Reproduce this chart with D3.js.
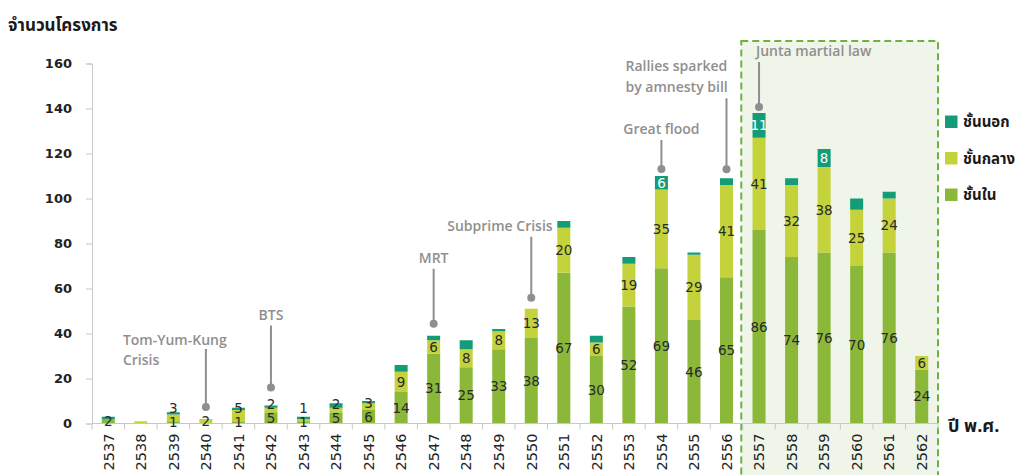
<!DOCTYPE html>
<html>
<head>
<meta charset="utf-8">
<script src="https://cdn.jsdelivr.net/npm/d3@7"></script>
<style>
  html, body { margin: 0; padding: 0; background: #ffffff; }
  svg { display: block; }
  .thai { font-family: "Noto Sans Thai", "Loma", "Garuda", "Tlwg Typo", "DejaVu Sans", sans-serif; }
  .num { font-family: "DejaVu Sans", "Noto Sans", sans-serif; }
  .note { font-family: "Open Sans", "Noto Sans", sans-serif; font-weight: 600; }
</style>
</head>
<body>
<svg id="chart" width="1017" height="475"></svg>
<script>
// Thai Buddhist-era years
const years = ["2537","2538","2539","2540","2541","2542","2543","2544","2545","2546","2547","2548","2549",
               "2550","2551","2552","2553","2554","2555","2556","2557","2558","2559","2560","2561","2562"];

// Number of projects per zone
const innerZone  = [2, 0, 1, 0, 1, 5, 1, 5, 6, 14, 31, 25, 33, 38, 67, 30, 52, 69, 46, 65, 86, 74, 76, 70, 76, 24];
const middleZone = [0, 1, 3, 2, 5, 2, 1, 2, 3,  9,  6,  8,  8, 13, 20,  6, 19, 35, 29, 41, 41, 32, 38, 25, 24,  6];
const outerZone  = [1, 0, 1, 0, 1, 1, 1, 2, 1,  3,  2,  4,  1,  0,  3,  3,  3,  6,  1,  3, 11,  3,  8,  5,  3,  0];

const seriesKeys   = ["inner", "middle", "outer"];
const seriesNames  = ["ชั้นใน", "ชั้นกลาง", "ชั้นนอก"];
const yTicks = [0, 20, 40, 60, 80, 100, 120, 140, 160];

// Event notes
const noteYears = ["2540", "2542", "2547", "2550", "2554", "2556", "2557"];
const noteTexts = [["Tom-Yum-Kung", "Crisis"], ["BTS"], ["MRT"], ["Subprime Crisis"], ["Great flood"],
                   ["Rallies sparked", "by amnesty bill"], ["Junta martial law"]];
const highlightFrom = "2557";

const xTitle = "ปี พ.ศ.";
const yTitle = "จำนวนโครงการ";

// ---- layout ----
const colors = { inner: "#8cb83a", middle: "#c4d33c", outer: "#149c79" };
const noteLayout = {
  "2540": { gap: 12, len: 58, dx: -83, anchor: "start" },
  "2542": { gap: 18, len: 62, dx: 0,   anchor: "middle" },
  "2547": { gap: 12, len: 55, dx: 0,   anchor: "middle" },
  "2550": { gap: 11, len: 61, dx: -84, anchor: "start" },
  "2554": { gap: 7,  len: 29, dx: 0,   anchor: "middle" },
  "2556": { gap: 9,  len: 71, dx: -101, anchor: "start" },
  "2557": { gap: 6,  len: 45, dx: -3,  anchor: "start" }
};

const data = years.map((y, i) => ({ year: y, inner: innerZone[i], middle: middleZone[i], outer: outerZone[i] }));
const totals = data.map(d => d.inner + d.middle + d.outer);

const svg = d3.select("#chart");

const x = d3.scaleBand().domain(years).range([92, 938]).paddingInner(0.6).paddingOuter(0.3);
const y = d3.scaleLinear().domain([0, 160]).range([423.5, 63.5]);
const step = x.step();

// highlighted period box
const boxLeft = x(highlightFrom) - step * 0.3 - 1.5;
svg.append("rect")
  .attr("x", boxLeft).attr("y", 41)
  .attr("width", 938 - boxLeft).attr("height", 460)
  .attr("fill", "#eff5e9")
  .attr("stroke", "#6cb33f").attr("stroke-width", 2)
  .attr("stroke-dasharray", "7,4");

// y axis
const yAxis = svg.append("g").attr("transform", "translate(92,0)")
  .call(d3.axisLeft(y).tickValues(yTicks).tickSize(6).tickPadding(14));
yAxis.select(".domain").attr("stroke", "#c8c8c8");
yAxis.selectAll(".tick line").attr("stroke", "#c8c8c8");
yAxis.selectAll(".tick text")
  .attr("class", "num").attr("font-size", 13).attr("font-weight", "bold").attr("fill", "#222");

// stacked bars
const stack = d3.stack().keys(seriesKeys)(data);
const layers = svg.append("g").selectAll("g").data(stack).join("g")
  .attr("fill", d => colors[d.key]);
layers.selectAll("rect").data(d => d).join("rect")
  .attr("x", d => x(d.data.year))
  .attr("width", x.bandwidth())
  .attr("y", d => y(d[1]))
  .attr("height", d => y(d[0]) - y(d[1]));

// x axis
const xAxisG = svg.append("g").attr("transform", `translate(0,${y(0)})`);
xAxisG.append("line").attr("x1", 92).attr("x2", 938).attr("stroke", "#c8c8c8");
const bounds = years.map(yr => x(yr) - step * 0.3).concat([938]);
xAxisG.selectAll("line.tk").data(bounds).join("line").attr("class", "tk")
  .attr("x1", d => d).attr("x2", d => d).attr("y1", 0).attr("y2", 6)
  .attr("stroke", "#c8c8c8");
xAxisG.selectAll("text").data(years).join("text")
  .attr("class", "num")
  .attr("transform", d => `translate(${x(d) + x.bandwidth() / 2},10) rotate(-90)`)
  .attr("text-anchor", "end").attr("dy", "0.36em")
  .attr("font-size", 14.5).attr("fill", "#222")
  .text(d => d);

// value labels, pushed upward when segments are too thin to hold them
const labelG = svg.append("g").attr("class", "num").attr("font-size", 13.5);
data.forEach((d, i) => {
  let prev = Infinity;
  let base = 0;
  seriesKeys.forEach(k => {
    const v = d[k];
    const lo = base, hi = base + v;
    base = hi;
    const show = k === "outer" ? v >= 6 : (v > 0 && totals[i] >= 2);
    if (!show) return;
    let cy = (y(lo) + y(hi)) / 2;
    if (cy > prev - 14) cy = prev - 14;
    prev = cy;
    labelG.append("text")
      .attr("x", x(d.year) + x.bandwidth() / 2)
      .attr("y", cy).attr("dy", "0.36em")
      .attr("text-anchor", "middle")
      .attr("fill", k === "outer" ? "#ffffff" : "#2a2a2a")
      .text(v);
  });
});

// event notes
noteYears.forEach((yr, i) => {
  const L = noteLayout[yr];
  const cx = x(yr) + x.bandwidth() / 2;
  const dotY = y(totals[years.indexOf(yr)]) - L.gap;
  const topY = dotY - L.len;
  const g = svg.append("g");
  g.append("line").attr("x1", cx).attr("x2", cx).attr("y1", topY).attr("y2", dotY)
    .attr("stroke", "#8f8f8f").attr("stroke-width", 2);
  g.append("circle").attr("cx", cx).attr("cy", dotY).attr("r", 4).attr("fill", "#8f8f8f");
  const lines = noteTexts[i];
  lines.forEach((t, j) => {
    const cyText = lines.length === 2 && yr === "2540"
      ? topY - 9 + j * 20
      : topY - 11 - (lines.length - 1 - j) * 21;
    g.append("text").attr("class", "note")
      .attr("x", cx + L.dx).attr("y", cyText).attr("dy", "0.36em")
      .attr("text-anchor", L.anchor)
      .attr("font-size", 14).attr("fill", "#8f8f8f")
      .text(t);
  });
});

// axis titles
svg.append("text").attr("class", "thai")
  .attr("x", 8).attr("y", 25).attr("dy", "0.36em")
  .attr("font-size", 17).attr("font-weight", "bold").attr("fill", "#1a1a1a")
  .text(yTitle);
svg.append("text").attr("class", "thai")
  .attr("x", 948).attr("y", 426).attr("dy", "0.36em")
  .attr("font-size", 18).attr("font-weight", "bold").attr("fill", "#1a1a1a")
  .text(xTitle);

// legend (outer zone on top)
const legendOrder = [2, 1, 0];
const legend = svg.append("g");
legendOrder.forEach((si, r) => {
  const cy = 122 + r * 36.5;
  legend.append("rect").attr("x", 945).attr("y", cy - 6.5).attr("width", 12.5).attr("height", 12.5)
    .attr("fill", colors[seriesKeys[si]]);
  legend.append("text").attr("class", "thai")
    .attr("x", 963).attr("y", cy).attr("dy", "0.36em")
    .attr("font-size", 15).attr("font-weight", "bold").attr("fill", "#1a1a1a")
    .text(seriesNames[si]);
});
</script>
</body>
</html>
